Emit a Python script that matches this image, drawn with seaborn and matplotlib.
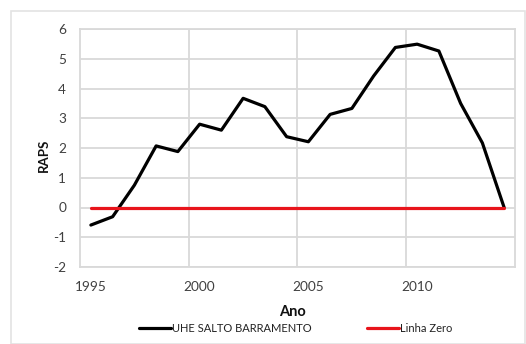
import matplotlib
matplotlib.use("Agg")
import matplotlib.pyplot as plt
from matplotlib.patches import Rectangle
import seaborn as sns
import pandas as pd
import numpy as np

# Annual RAPS series for the dam station and the zero reference line
anos = [1995, 1996, 1997, 1998, 1999, 2000, 2001, 2002, 2003, 2004,
        2005, 2006, 2007, 2008, 2009, 2010, 2011, 2012, 2013, 2014]
raps = [-0.59, -0.31, 0.75, 2.07, 1.88, 2.80, 2.60, 3.67, 3.39, 2.38,
        2.21, 3.13, 3.33, 4.42, 5.38, 5.49, 5.26, 3.50, 2.17, 0.00]
linha_zero = [0.0] * len(anos)

serie_nome = "UHE SALTO BARRAMENTO"
zero_nome = "Linha Zero"
x_ticks = [1995, 2000, 2005, 2010]
y_ticks = [-2, -1, 0, 1, 2, 3, 4, 5, 6]

df = pd.DataFrame({"Ano": anos, "RAPS": raps, "Zero": linha_zero})

sns.set_style("white")
plt.rcParams["font.family"] = ["Lato", "DejaVu Sans"]

fig = plt.figure(figsize=(5.26, 3.44), dpi=100)
ax = fig.add_axes([80 / 526, 1 - 267 / 344, 435 / 526, 238 / 344])

# light outer chart border
fig.patches.append(Rectangle((11 / 526, 0), 1 - 11 / 526 - 0.002, 1 - 11 / 344,
                             transform=fig.transFigure, fill=False,
                             edgecolor="#e3e3e3", linewidth=1.2))

grid_c = "#d9d9d9"
sns.lineplot(data=df, x="Ano", y="RAPS", ax=ax, color="black", linewidth=2.3,
             label=serie_nome, zorder=3)
sns.lineplot(data=df, x="Ano", y="Zero", ax=ax, color="#e8141b", linewidth=2.3,
             label=zero_nome, zorder=4)

ax.set_xlim(anos[0] - 0.5, anos[-1] + 0.5)
ax.set_ylim(y_ticks[0], y_ticks[-1])
ax.set_yticks(y_ticks)
ax.set_yticklabels([str(v) for v in y_ticks])
ax.set_xticks(x_ticks)
ax.set_xticklabels([str(v) for v in x_ticks])
ax.set_xticks([t - 0.5 for t in x_ticks[1:]], minor=True)

ax.grid(False)
ax.yaxis.grid(True, color=grid_c, linewidth=1.3)
ax.xaxis.grid(True, which="minor", color=grid_c, linewidth=1.3)
ax.tick_params(axis="both", which="both", length=0, labelsize=9.8,
               labelcolor="#404040")
ax.tick_params(axis="x", pad=10)
ax.tick_params(axis="y", pad=10)
for s in ax.spines.values():
    s.set_color(grid_c)
    s.set_linewidth(1.3)

ax.set_xlabel("")
ax.set_ylabel("")
fig.text(44 / 526, 1 - 155 / 344, "RAPS", rotation=90, ha="center", va="center",
         fontsize=9.5, fontweight="bold", color="#111111")
fig.text(292 / 526, 1 - 312 / 344, "Ano", ha="center", va="center",
         fontsize=10.5, fontweight="bold", color="#111111")

handles, labels = ax.get_legend_handles_labels()
ax.get_legend().remove()
fig.legend(handles, labels, loc="center", bbox_to_anchor=(296 / 526, 1 - 328 / 344),
           ncol=2, frameon=False, fontsize=8.0, handlelength=2.8,
           handletextpad=0.15, columnspacing=5.0, labelcolor="#222222",
           borderpad=0, borderaxespad=0)

fig.savefig("out.png", dpi=100)
